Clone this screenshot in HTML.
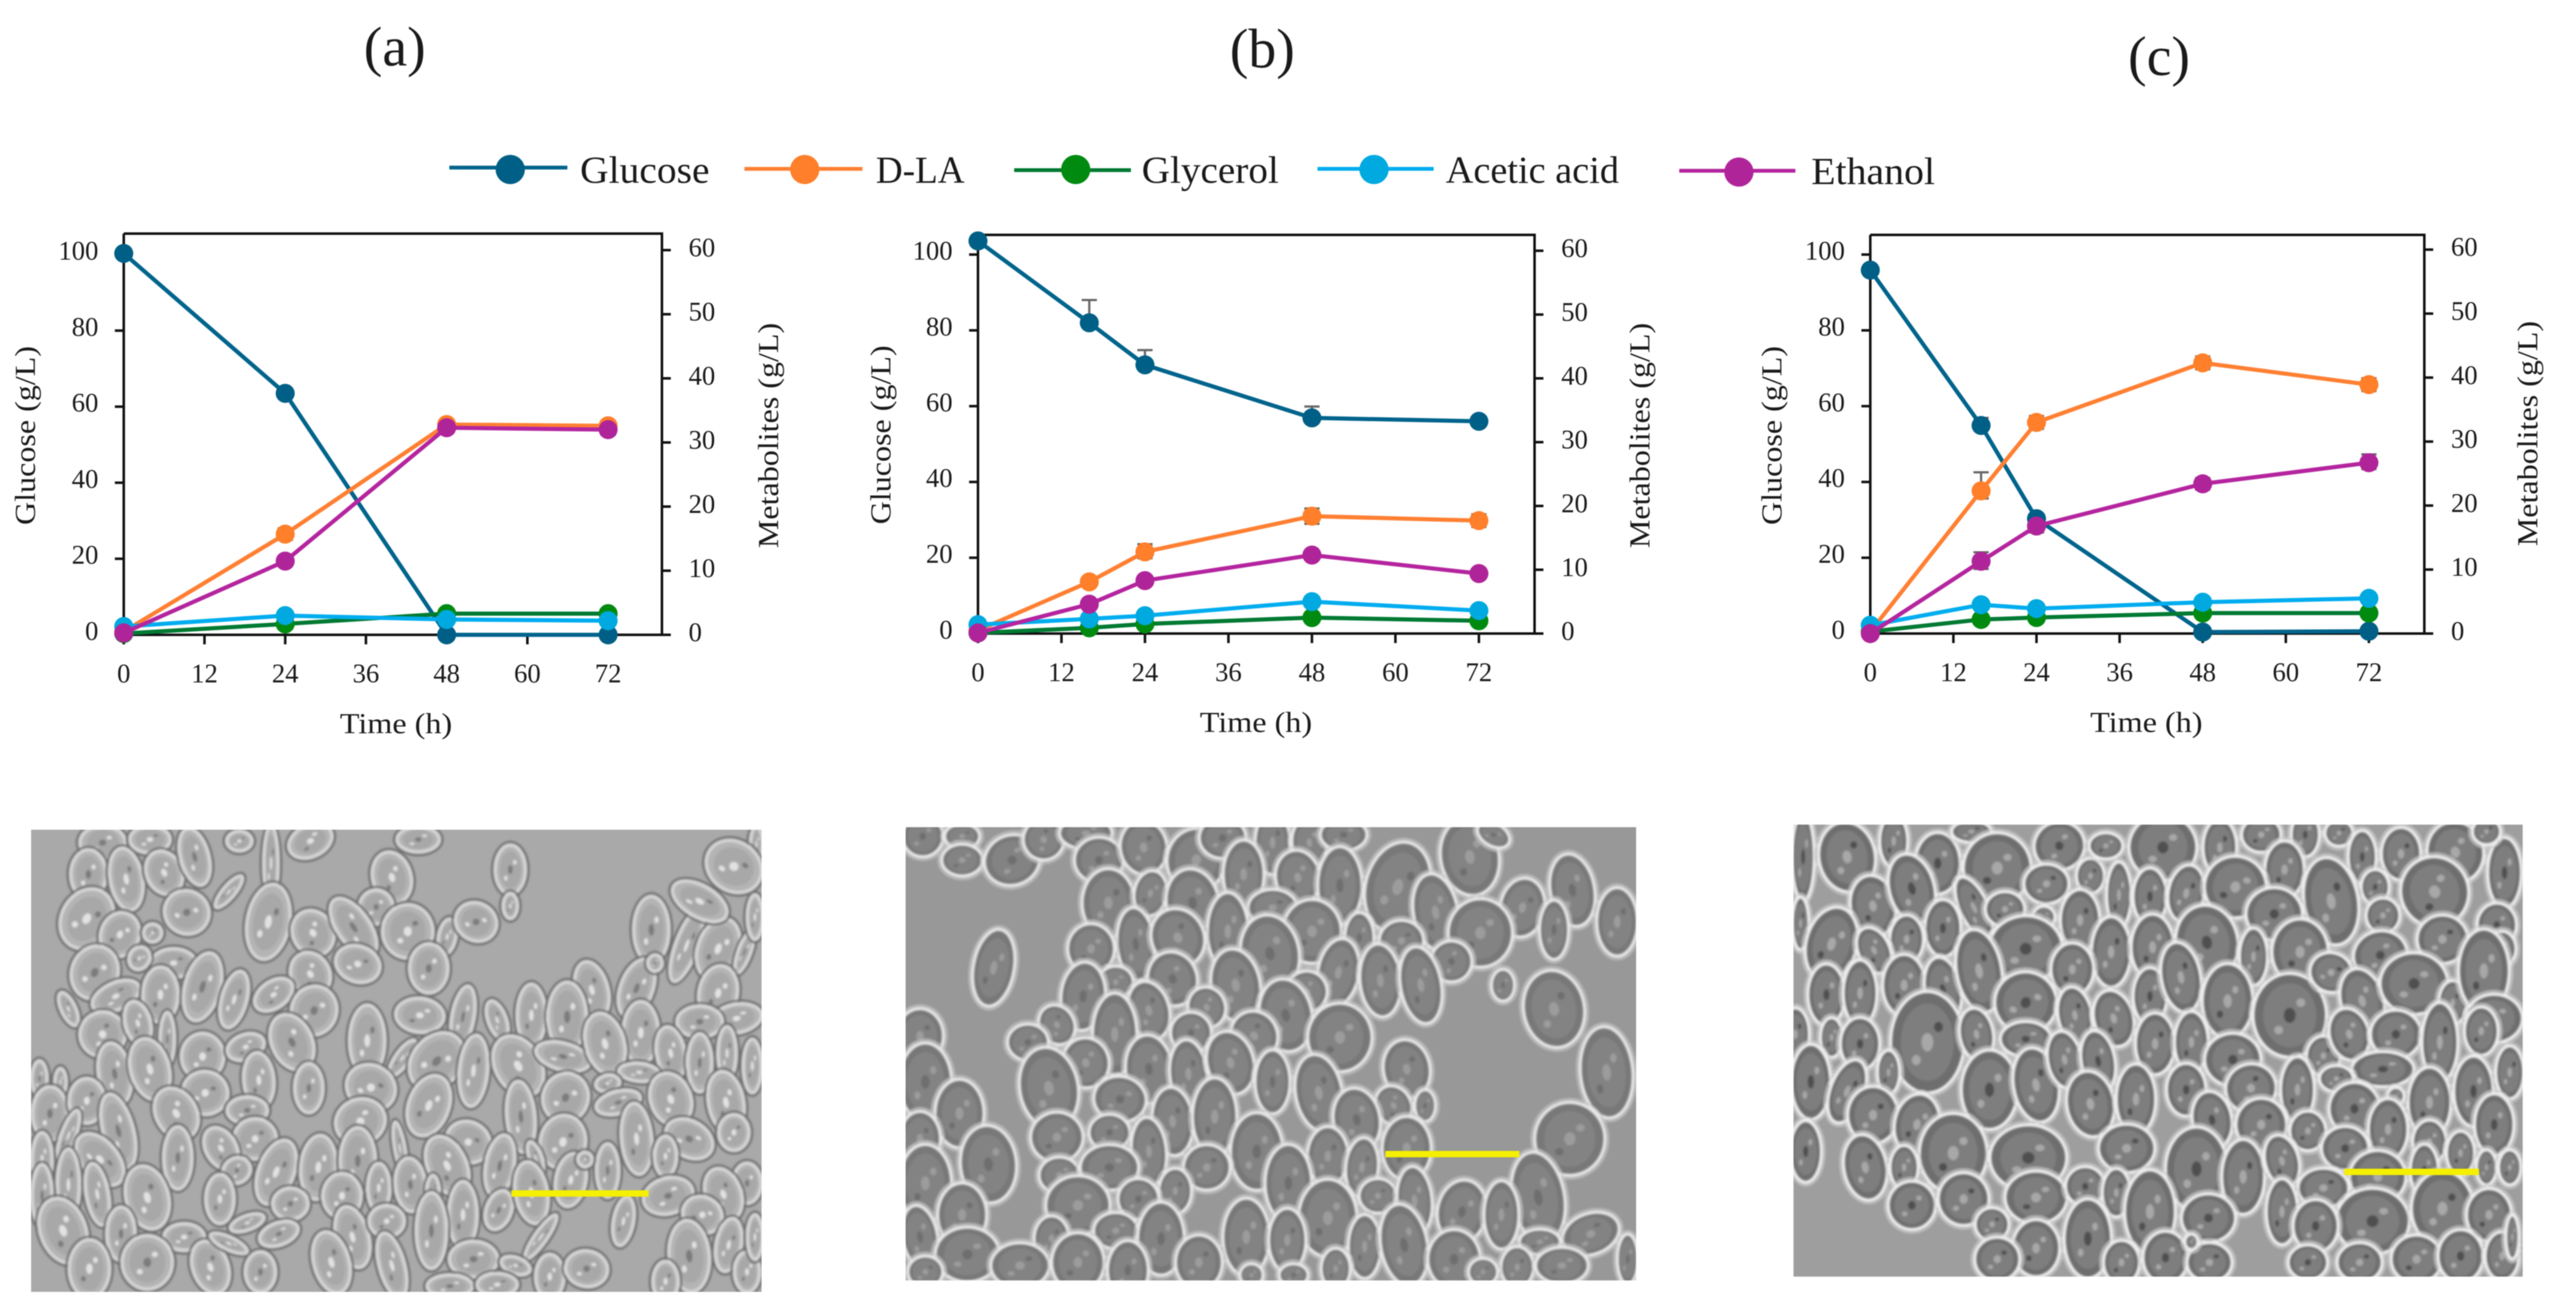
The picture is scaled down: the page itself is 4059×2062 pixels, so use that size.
<!DOCTYPE html>
<html lang="en">
<head>
<meta charset="utf-8">
<title>Fermentation profiles and micrographs</title>
<style>
html,body{margin:0;padding:0;background:#fff;}
svg{display:block;filter:blur(0.8px);}
text{font-family:"Liberation Serif","DejaVu Serif",serif;fill:#1a1a1a;}
</style>
</head>
<body>
<svg id="figure" xmlns="http://www.w3.org/2000/svg" width="4059" height="2062" viewBox="0 0 4059 2062">
  <rect x="0" y="0" width="4059" height="2062" fill="#ffffff"/>
  <text x="622" y="103" font-size="88" text-anchor="middle">(a)</text>
  <text x="1989" y="106" font-size="88" text-anchor="middle">(b)</text>
  <text x="3402" y="118" font-size="88" text-anchor="middle">(c)</text>

  <g>
    <g>
      <line x1="708" y1="264" x2="894" y2="264" stroke="#00648c" stroke-width="6"/>
      <circle cx="804" cy="267" r="23" fill="#005f86"/>
      <text x="914" y="288" font-size="60" textLength="204" lengthAdjust="spacingAndGlyphs">Glucose</text>
    </g>
    <g>
      <line x1="1173" y1="266" x2="1359" y2="266" stroke="#ff8033" stroke-width="6"/>
      <circle cx="1268" cy="267" r="23" fill="#ff7f2a"/>
      <text x="1380" y="288" font-size="60" textLength="140" lengthAdjust="spacingAndGlyphs">D-LA</text>
    </g>
    <g>
      <line x1="1598" y1="268" x2="1782" y2="268" stroke="#007a33" stroke-width="6"/>
      <circle cx="1695" cy="267" r="23" fill="#008a10"/>
      <text x="1799" y="288" font-size="60" textLength="216" lengthAdjust="spacingAndGlyphs">Glycerol</text>
    </g>
    <g>
      <line x1="2076" y1="266" x2="2259" y2="266" stroke="#00adef" stroke-width="6"/>
      <circle cx="2165" cy="267" r="23" fill="#00a9e0"/>
      <text x="2278" y="288" font-size="60" textLength="273" lengthAdjust="spacingAndGlyphs">Acetic acid</text>
    </g>
    <g>
      <line x1="2646" y1="269" x2="2829" y2="269" stroke="#b5259f" stroke-width="6"/>
      <circle cx="2740" cy="271" r="23" fill="#b0249a"/>
      <text x="2854" y="290" font-size="60" textLength="195" lengthAdjust="spacingAndGlyphs">Ethanol</text>
    </g>
  </g>

  <g id="chart-a"></g>
  <g id="chart-b"></g>
  <g id="chart-c"></g>

  <defs>
    <clipPath id="clip-a"><rect x="49" y="1307" width="1151" height="728"/></clipPath>
    <clipPath id="clip-b"><rect x="1427" y="1303" width="1151" height="714"/></clipPath>
    <clipPath id="clip-c"><rect x="2826" y="1299" width="1149" height="712"/></clipPath>
    <filter id="soften" x="-2%" y="-2%" width="104%" height="104%"><feGaussianBlur stdDeviation="1.6"/></filter>
  </defs>
  <g clip-path="url(#clip-a)">
    <rect x="49" y="1307" width="1151" height="728" fill="#a9a9a9"/>
    <g id="cells-a" filter="url(#soften)"></g>
  </g>
  <g clip-path="url(#clip-b)">
    <rect x="1427" y="1303" width="1151" height="714" fill="#989898"/>
    <g id="cells-b" filter="url(#soften)"></g>
  </g>
  <g clip-path="url(#clip-c)">
    <rect x="2826" y="1299" width="1149" height="712" fill="#9e9e9e"/>
    <g id="cells-c" filter="url(#soften)"></g>
  </g>
  <rect x="806" y="1875" width="216" height="10" fill="#f5ef00"/>
  <rect x="2183" y="1813" width="211" height="10" fill="#f5ef00"/>
  <rect x="3694" y="1841" width="212" height="10" fill="#f5ef00"/>
</svg>

<script>
// ----- tick labels -----
const xTickLabels = [0, 12, 24, 36, 48, 60, 72];
const glucoseTickLabels = [0, 20, 40, 60, 80, 100];
const metaboliteTickLabels = [0, 10, 20, 30, 40, 50, 60];
const xAxisMax = 80;

// ----- panel (a) -----
const timesA = [0, 24, 48, 72];
const glucoseA = [100.3, 63.5, 0, 0];
const dlaA = [0.5, 15.7, 32.8, 32.6];
const glycerolA = [0.2, 1.7, 3.3, 3.3];
const aceticA = [1.3, 3.0, 2.4, 2.2];
const ethanolA = [0.3, 11.5, 32.3, 32.0];
const errUpDlaA = [0, 0.9, 0.6, 0.6];
const errLowDlaA = [0, 0.9, 0.6, 0.6];
const errUpEthanolA = [0, 0.8, 0.8, 0.8];
const errLowEthanolA = [0, 0.8, 0.8, 0.8];
const errUpGlucoseA = [0, 0.8, 0, 0];
const errLowGlucoseA = [0, 0, 0, 0];

// ----- panel (b) -----
const timesB = [0, 16, 24, 48, 72];
const glucoseB = [103.6, 82, 70.9, 56.9, 56];
const dlaB = [0.5, 8.1, 12.8, 18.4, 17.7];
const glycerolB = [0.1, 0.9, 1.5, 2.5, 2.0];
const aceticB = [1.4, 2.3, 2.8, 5.0, 3.6];
const ethanolB = [0.1, 4.6, 8.3, 12.3, 9.4];
const errUpGlucoseB = [0, 6, 3.9, 3, 0.5];
const errLowGlucoseB = [0, 0, 0, 0, 0];
const errUpDlaB = [0, 0.5, 1.2, 1.2, 1.0];
const errLowDlaB = [0, 0.5, 1.0, 1.2, 1.0];
const errUpEthanolB = [0, 0.3, 0.5, 0.4, 0.4];
const errLowEthanolB = [0, 0.3, 0.5, 0.4, 0.4];

// ----- panel (c) -----
const timesC = [0, 16, 24, 48, 72];
const glucoseC = [95.9, 54.9, 30.3, 0.4, 0.6];
const dlaC = [0.3, 22.3, 33, 42.3, 38.9];
const glycerolC = [0.3, 2.2, 2.5, 3.2, 3.2];
const aceticC = [1.3, 4.5, 3.9, 4.9, 5.5];
const ethanolC = [0, 11.3, 16.8, 23.4, 26.7];
const errUpGlucoseC = [0, 2, 1, 0, 0];
const errLowGlucoseC = [0, 0, 0, 0, 0];
const errUpDlaC = [0, 2.9, 1, 1, 1];
const errLowDlaC = [0, 1.2, 1, 1, 1];
const errUpEthanolC = [0, 1.4, 1, 0.9, 1.3];
const errLowEthanolC = [0, 1.2, 1, 0.9, 1.0];

const noErrors = [0, 0, 0, 0, 0];

// ----- micrograph cell outlines (not chart data): x, y, rx, ry, angle -----
const cellsA = [[195,95,45,38,0],[285,85,40,30,0],[590,90,45,35,-25],[795,85,42,28,0],[455,90,25,22,0],[1438,100,12,40,0],
[168,195,35,55,0],[240,210,32,70,-10],[312,190,35,50,-25],[370,140,28,65,-15],[515,160,14,85,0],[745,205,38,58,-15],[970,180,30,55,0],[1395,170,58,55,35],
[435,250,12,45,40],[355,315,45,48,30],[165,335,50,70,30],[228,385,38,50,20],[715,298,33,38,0],[510,345,42,85,10],[595,380,40,52,-30],[672,362,32,75,-35],[775,375,50,60,0],[850,392,17,40,10],[905,345,42,42,30],[290,380,18,20,0],[970,295,14,28,0],[1238,370,35,75,0],[1305,420,22,85,20],[1365,430,40,70,20],[1415,440,12,50,20],[1330,280,60,35,30],[1435,330,15,50,0],
[180,505,46,60,20],[330,475,44,32,0],[265,460,20,26,30],[815,492,38,55,0],[680,478,45,40,20],[590,510,38,50,-30],[1210,555,32,68,20],[1125,560,32,65,-15],[1365,570,38,62,10],[1245,475,14,18,0],
[220,580,50,30,-25],[305,575,35,62,0],[385,550,35,78,15],[445,590,25,65,15],[520,575,42,30,-35],[597,625,45,55,15],[130,620,14,40,-25],[798,640,48,38,5],[880,645,22,70,10],[945,655,18,45,-20],[1010,640,28,70,0],[1078,645,38,78,0],[1218,695,35,70,0],[1400,650,50,32,-10],[1330,660,45,35,0],
[195,700,45,50,-20],[262,665,25,50,-15],[318,715,14,60,0],[385,770,42,52,0],[467,740,38,28,-20],[555,725,40,65,-25],[698,720,35,80,0],[765,775,14,48,35],[830,785,48,70,40],[900,815,28,80,5],[985,800,45,72,-30],[1070,770,55,30,15],[1150,730,38,70,-15],[1275,760,28,60,-10],[1330,790,24,65,0],[1382,760,18,60,0],[1430,800,18,60,0],
[218,825,32,70,-10],[285,810,38,70,-15],[115,850,11,30,0],[75,840,15,40,0],[390,885,45,48,15],[492,845,30,62,-5],[587,870,28,55,0],[705,868,50,50,30],[815,925,40,70,20],[1075,900,45,55,20],[1215,820,40,20,5],[1155,855,24,18,-10],[1175,915,45,25,-15],[1275,905,40,60,-20],[1380,915,35,70,-10],
[95,950,35,60,0],[165,910,35,50,0],[335,950,40,60,-30],[470,940,40,30,0],[485,1030,42,45,0],[685,975,50,50,-20],[990,960,28,80,-5],[1070,1040,45,60,10],[1210,1030,30,80,-5],[1310,1030,50,40,30],[1395,1010,30,40,0],[130,1020,14,60,20],[225,1005,30,85,-15],[890,1040,45,45,30],
[80,1095,20,60,0],[338,1090,28,70,0],[190,1095,60,40,50],[420,1060,30,50,-30],[450,1130,28,28,-30],[525,1135,35,75,20],[605,1120,35,72,5],[680,1100,35,75,0],[760,1060,10,60,-10],[850,1115,38,70,-25],[950,1115,28,70,10],[1018,1090,12,38,-20],[1085,1160,30,60,10],[1155,1130,22,60,0],[1112,1095,14,16,0],[1265,1085,22,45,0],[1420,1170,28,45,0],
[130,1175,22,80,0],[185,1205,22,70,-10],[80,1210,20,70,0],[280,1215,42,72,-15],[418,1220,28,55,0],[552,1235,35,35,0],[650,1210,38,50,0],[720,1185,22,55,0],[780,1175,30,60,-5],[823,1195,12,35,0],[880,1270,28,75,0],[948,1255,25,45,20],[1010,1200,32,70,-10],[1185,1290,20,55,10],[1270,1210,50,40,-15],[1375,1205,35,60,-20],
[120,1320,45,75,-20],[230,1330,28,60,0],[350,1340,40,30,0],[470,1295,35,16,-20],[530,1330,40,25,-20],[670,1340,32,70,-15],[735,1290,35,35,0],[820,1320,30,85,0],[1028,1340,12,60,35],[1335,1270,40,40,30],[1310,1400,40,80,-5],[1385,1365,25,60,10],[170,1440,40,65,0],[280,1420,50,60,0],[400,1435,35,60,-20],[435,1360,40,14,25],[495,1450,30,45,0],[630,1420,35,70,-15],[745,1430,25,75,-15],[900,1410,48,40,0],[980,1430,30,18,20],[1045,1465,28,50,0],[1115,1440,42,40,10],[1265,1480,25,45,0],[1420,1450,25,45,0],[855,1495,45,25,0],[945,1490,40,25,0],[1435,1340,15,50,0]];

const cellsB = [[65,75,35,45,0],[140,75,30,28,0],[140,150,35,35,0],[235,150,48,55,-20],[295,85,35,45,-30],[375,65,45,35,0],[400,150,42,50,0],[485,110,40,60,-10],[585,150,50,70,10],[635,80,40,45,0],[730,95,30,70,0],[800,95,30,55,-5],[865,70,40,35,0],[675,195,35,75,0],[778,205,38,60,-10],[858,230,38,85,0],[968,235,55,100,15],[1105,140,50,85,-10],[1150,70,30,25,30],
[418,285,45,75,0],[498,255,28,50,10],[578,285,45,75,-10],[730,300,42,40,0],[1040,315,38,85,-10],[1300,245,38,80,-10],[1205,300,38,65,10],[1125,380,55,75,0],[1265,370,25,65,0],[1385,345,35,75,0],[645,375,35,85,0],[470,415,32,80,-5],[550,395,45,65,-25],[805,375,50,70,0],[895,395,25,55,0],[975,405,38,45,0],[385,430,40,55,0],[725,445,50,85,-10],[855,505,35,75,10],[200,490,35,85,10],[1070,470,35,45,-25],[935,530,35,80,-5],[1012,545,35,85,-10],[1168,545,20,35,0],[1265,620,52,85,-10],
[432,535,30,35,0],[540,525,42,60,-20],[660,545,42,80,-10],[795,565,35,45,-20],[370,580,38,75,5],[495,625,35,65,-15],[605,615,32,45,-20],[755,640,45,80,-10],[320,670,30,45,-30],[430,700,38,90,0],[575,695,35,45,0],[695,705,40,55,-25],[858,710,55,75,0],[265,725,35,40,0],[60,705,40,60,0],[375,790,40,55,-10],[495,810,40,75,-5],[570,825,32,75,-5],[650,790,40,70,-15],[730,850,30,70,0],[985,810,40,65,-10],[1365,820,45,100,-5],[70,850,45,85,0],[305,870,50,90,-10],[135,950,42,75,0],[440,905,45,50,10],[818,885,40,85,-10],[960,925,30,45,-30],[1020,925,18,35,0],[540,975,35,75,-5],[620,960,38,85,0],[890,970,40,70,-10],[60,1030,35,60,0],[320,1025,45,55,0],[420,1010,35,40,0],[495,1070,30,75,-5],[1295,1030,60,80,0],[700,1070,45,85,0],[835,1085,35,65,0],[985,1060,42,70,0],[190,1110,48,85,-5],[900,1120,28,65,5],[325,1145,35,40,0],[420,1120,50,50,0],[605,1120,40,50,0],[70,1170,45,85,0],[760,1170,40,85,0],[930,1210,32,38,0],[1000,1225,30,75,-5],[1235,1215,45,100,-10],[545,1195,28,50,0],[360,1240,55,65,0],[475,1220,35,45,0],[140,1270,42,70,0],[835,1280,50,85,0],[1090,1260,42,70,10],[1165,1270,30,75,0],[680,1340,40,85,0],[60,1340,30,70,-10],[310,1345,30,50,0],[432,1320,38,40,0],[518,1345,40,80,0],[758,1350,32,70,0],[905,1370,28,70,0],[980,1365,40,90,-10],[1335,1330,50,45,-20],[1238,1355,35,28,0],[150,1395,55,60,0],[250,1430,50,50,0],[360,1420,45,65,0],[455,1445,35,65,0],[590,1420,40,60,0],[850,1440,25,45,0],[1075,1410,45,65,0],[1195,1435,28,45,0],[1280,1430,45,40,0],[1405,1410,18,55,0],[70,1450,30,35,0],[690,1460,20,25,0],[770,1460,25,25,0],[1130,1450,25,30,0]];

const cellsC = [[75,140,20,100,0],[160,140,50,80,-10],[250,90,25,60,0],[335,160,40,70,0],[400,60,35,25,0],[450,175,60,80,0],[570,105,45,55,-15],[630,200,25,40,0],[660,105,30,30,0],[770,110,60,75,0],[880,110,30,65,0],[960,70,35,40,0],[1045,70,25,50,0],[1110,65,25,30,0],[1005,180,35,65,0],[1155,140,25,60,0],[1230,130,35,60,0],[1335,125,50,70,-15],[1430,190,30,80,0],[1395,60,25,30,0],
[210,295,40,70,-10],[285,240,40,80,-15],[545,225,40,45,0],[685,260,22,75,0],[745,265,30,65,0],[815,255,32,65,10],[910,235,55,70,15],[1180,235,25,40,0],[1095,280,48,100,-10],[1295,250,60,80,-20],[985,320,50,60,0],[405,300,25,75,-25],[465,305,35,40,0],[540,330,20,25,0],[610,340,35,70,0],[1195,325,30,40,0],[1415,355,35,50,0],
[70,350,15,60,0],[130,415,45,85,15],[345,365,32,65,0],[275,400,30,55,0],[212,435,28,55,-25],[505,430,65,75,0],[670,440,35,80,0],[750,425,38,75,0],[855,410,55,85,-10],[945,455,25,65,0],[1035,440,50,75,0],[1190,450,48,55,-15],[1310,400,45,55,0],[1425,430,25,40,0],
[120,575,33,70,0],[185,570,30,75,0],[270,545,38,70,0],[345,560,32,75,-10],[415,500,40,95,-10],[595,495,38,60,0],[505,600,55,70,20],[600,640,30,65,-10],[675,650,35,65,-15],[745,580,30,65,0],[805,520,35,80,-10],[895,595,45,85,0],[1015,640,65,95,0],[1095,505,38,45,20],[1155,595,38,75,-15],[1255,540,60,70,0],[1330,600,25,50,0],[1390,500,45,95,0],[1410,650,50,55,0],[60,700,25,60,0],[130,710,20,45,0],[185,730,35,60,0],[315,725,65,115,0],[410,700,30,60,-10],[505,715,45,40,0],[755,730,35,70,0],[825,725,30,70,0],[905,780,50,60,0],[1080,768,30,45,0],[1130,700,35,60,-15],[1220,700,45,55,0],[1305,725,32,90,0],[1385,690,30,55,0],
[90,850,35,85,0],[160,880,30,75,20],[240,820,20,50,0],[435,875,50,90,0],[525,860,40,85,-10],[580,780,30,65,-10],[645,785,30,70,-10],[630,920,42,75,-10],[718,905,35,80,0],[815,875,35,60,0],[940,870,45,55,-20],[1030,875,30,75,0],[1195,810,55,40,0],[1105,840,30,30,0],[1285,915,38,80,0],[1370,880,35,80,0],[1440,820,25,60,0],[1220,895,15,20,0],
[80,1070,28,70,0],[210,955,45,65,0],[295,985,40,70,10],[865,970,35,65,-10],[960,985,45,60,0],[1050,1005,32,45,0],[1140,935,45,60,0],[1205,1000,35,70,0],[1285,1040,30,50,0],[1410,985,35,70,0],
[195,1120,38,75,-10],[365,1075,60,90,0],[510,1090,68,75,0],[700,1060,50,55,0],[270,1120,25,50,0],[835,1125,55,95,0],[925,1150,38,85,0],[1000,1100,30,60,-15],[1122,1060,42,50,0],[1185,1150,50,60,0],[1345,1075,25,50,0],[1275,1130,25,60,0],[1395,1120,18,40,0],[1440,1120,20,40,0],
[285,1240,42,55,0],[385,1220,45,60,0],[525,1215,55,60,0],[620,1180,35,45,0],[680,1200,25,55,0],[745,1260,45,95,0],[858,1280,48,55,0],[1080,1185,45,45,0],[1000,1260,28,75,0],[1175,1290,65,75,0],[1310,1250,55,85,0],[1400,1270,40,60,0],[1065,1305,40,60,0],
[440,1300,30,38,0],[525,1375,42,65,0],[625,1345,42,90,0],[450,1410,40,50,0],[690,1420,32,50,0],[775,1405,40,60,0],[860,1420,40,45,0],[825,1355,12,18,0],[1050,1420,35,40,0],[1150,1420,40,45,0],[1260,1410,45,55,0],[1345,1400,40,60,0],[1425,1400,30,55,0],[1445,1340,12,50,0]];

const NS = 'http://www.w3.org/2000/svg';
const lineColors = {glucose:'#00648c', dla:'#ff8033', glycerol:'#007a33', acetic:'#00adef', ethanol:'#b5259f'};
const markerColors = {glucose:'#005f86', dla:'#ff7f2a', glycerol:'#008a10', acetic:'#00a9e0', ethanol:'#b0249a'};

function mk(parent, tag, attrs, txt) {
  const el = document.createElementNS(NS, tag);
  for (const k in attrs) el.setAttribute(k, attrs[k]);
  if (txt !== undefined) el.textContent = txt;
  parent.appendChild(el);
  return el;
}

function drawChart(id, box, times, seriesList) {
  const root = document.getElementById(id);
  const x = function (t) { return box.left + (box.right - box.left) * t / xAxisMax; };
  const yL = function (v) { return box.bottom - v * box.leftPer20 / 20; };
  const yR = function (v) { return box.bottom - v * box.rightPer10 / 10; };
  const axisStyle = {stroke:'#111', 'stroke-width':4, fill:'none'};

  const frame = mk(root, 'path', Object.assign({d:'M' + box.left + ' ' + box.top + 'H' + box.right + 'V' + box.bottom + 'M' + box.left + ' ' + box.top + 'V' + box.bottom + 'H' + (box.right + 14)}, axisStyle));
  
  

  xTickLabels.forEach(function (v) {
    const tick = mk(root, 'line', Object.assign({x1:x(v), x2:x(v), y1:box.bottom, y2:box.bottom + 15}, axisStyle));
    
    
    const label = mk(root, 'text', {x:x(v), y:box.bottom + 75, 'font-size':42, 'text-anchor':'middle'}, String(v));
    
    
  });
  glucoseTickLabels.forEach(function (v) {
    const tick = mk(root, 'line', Object.assign({x1:box.left - 14, x2:box.left, y1:yL(v), y2:yL(v)}, axisStyle));
    
    
    const label = mk(root, 'text', {x:box.left - 40, y:yL(v) + 8, 'font-size':42, 'text-anchor':'end'}, String(v));
    
    
  });
  metaboliteTickLabels.forEach(function (v) {
    const tick = mk(root, 'line', Object.assign({x1:box.right, x2:box.right + 14, y1:yR(v), y2:yR(v)}, axisStyle));
    
    
    const label = mk(root, 'text', {x:box.right + 42, y:yR(v) + 10, 'font-size':42}, String(v));
    
    
  });

  const xt = mk(root, 'text', {x:box.timeX, y:box.bottom + 155, 'font-size':46, 'text-anchor':'middle', textLength:177, lengthAdjust:'spacingAndGlyphs'}, 'Time (h)');
  
  
  const yt1 = mk(root, 'text', {transform:'translate(' + box.glucoseX + ',' + box.glucoseY + ') rotate(-90)', 'font-size':46, 'text-anchor':'middle', textLength:282, lengthAdjust:'spacingAndGlyphs'}, 'Glucose (g/L)');
  
  
  const yt2 = mk(root, 'text', {transform:'translate(' + box.metaX + ',' + box.metaY + ') rotate(-90)', 'font-size':46, 'text-anchor':'middle', textLength:355, lengthAdjust:'spacingAndGlyphs'}, 'Metabolites (g/L)');
  
  

  seriesList.forEach(function (s) {
    const y = s.axis === 'left' ? yL : yR;
    s.errUp.forEach(function (e, i) {
      if (i >= times.length) return;
      const lo = s.errLow[i];
      if (!e && !lo) return;
      const cx = x(times[i]);
      const top = y(s.values[i] + e);
      const bot = y(s.values[i] - lo);
      let d = 'M' + cx + ' ' + top + 'V' + bot + 'M' + (cx - 12) + ' ' + top + 'h24';
      if (lo) d += 'M' + (cx - 12) + ' ' + bot + 'h24';
      const bar = mk(root, 'path', {d:d, stroke:'#666', 'stroke-width':3.5, fill:'none'});
      
      
    });
  });
  seriesList.forEach(function (s) {
    const y = s.axis === 'left' ? yL : yR;
    const pts = s.values.map(function (v, i) { return x(times[i]) + ',' + y(v); }).join(' ');
    const line = mk(root, 'polyline', {points:pts, fill:'none', stroke:lineColors[s.key], 'stroke-width':6.5, 'stroke-linejoin':'round'});
    
    
    s.values.forEach(function (v, i) {
      const pt = mk(root, 'circle', {cx:x(times[i]), cy:y(v), r:15, fill:markerColors[s.key]});
      
      
    });
  });
}

function series(key, axis, values, errUp, errLow) { return {key:key, axis:axis, values:values, errUp:errUp, errLow:errLow}; }

drawChart('chart-a',
  {left:195, right:1043, top:368, bottom:1000, leftPer20:119.8, rightPer10:101, timeX:624, glucoseX:55, glucoseY:686, metaX:1226, metaY:686},
  timesA,
  [series('glucose','left',glucoseA,errUpGlucoseA,errLowGlucoseA), series('dla','right',dlaA,errUpDlaA,errLowDlaA), series('glycerol','right',glycerolA,noErrors,noErrors), series('acetic','right',aceticA,noErrors,noErrors), series('ethanol','right',ethanolA,errUpEthanolA,errLowEthanolA)]);
drawChart('chart-b',
  {left:1541, right:2418, top:370, bottom:998, leftPer20:119.4, rightPer10:100.5, timeX:1979, glucoseX:1403, glucoseY:685, metaX:2599, metaY:686},
  timesB,
  [series('glucose','left',glucoseB,errUpGlucoseB,errLowGlucoseB), series('dla','right',dlaB,errUpDlaB,errLowDlaB), series('glycerol','right',glycerolB,noErrors,noErrors), series('acetic','right',aceticB,noErrors,noErrors), series('ethanol','right',ethanolB,errUpEthanolB,errLowEthanolB)]);
drawChart('chart-c',
  {left:2947, right:3820, top:370, bottom:998, leftPer20:119.4, rightPer10:100.8, timeX:3382, glucoseX:2807, glucoseY:686, metaX:3998, metaY:683},
  timesC,
  [series('glucose','left',glucoseC,errUpGlucoseC,errLowGlucoseC), series('dla','right',dlaC,errUpDlaC,errLowDlaC), series('glycerol','right',glycerolC,noErrors,noErrors), series('acetic','right',aceticC,noErrors,noErrors), series('ethanol','right',ethanolC,errUpEthanolC,errLowEthanolC)]);

function drawCells(id, cells, style) {
  const g = document.getElementById(id);
  cells.forEach(function (c, n) {
    const cx = style.ox + c[0] * style.sx;
    const cy = style.oy + c[1] * style.sy;
    const rx = c[2] * style.sx * style.kx;
    const ry = c[3] * style.sy * style.ky;
    const t = 'rotate(' + c[4] + ' ' + cx + ' ' + cy + ')';
    const halo = mk(g, 'ellipse', {cx:cx, cy:cy, rx:rx + style.wallW, ry:ry + style.wallW, transform:t, fill:'none', stroke:style.halo, 'stroke-width':style.haloW});
    
    
    const wall = mk(g, 'ellipse', {cx:cx, cy:cy, rx:rx, ry:ry, transform:t, fill:style.fill, stroke:style.wall, 'stroke-width':style.wallW});
    
    
    const core = mk(g, 'ellipse', {cx:cx, cy:cy, rx:rx * 0.72, ry:ry * 0.76, transform:t, fill:style.core});
    
    
    [[0, 0], [-0.3, 0.35], [0.3, -0.3]].forEach(function (o, j) {
      const dotEl = mk(g, 'ellipse', {cx:cx + o[0] * rx, cy:cy + o[1] * ry, rx:rx * (j ? 0.12 : 0.16), ry:ry * (j ? 0.1 : 0.18), transform:t, fill:(n + j) % 3 === 0 ? style.darkDot : style.dot});
      
      
    });
  });
}
drawCells('cells-a', cellsA, {ox:0, oy:1280, sx:0.829, sy:0.499, kx:0.95, ky:1.4, halo:'#6e6e6e', haloW:3.5, wall:'#d6d6d6', wallW:5, fill:'#b4b4b4', core:'#a8a8a8', dot:'#e2e2e2', darkDot:'#7c7c7c'});
drawCells('cells-b', cellsB, {ox:1400, oy:1280, sx:0.829, sy:0.499, kx:1.12, ky:1.45, halo:'#c8c8c8', haloW:2, wall:'#e8e8e8', wallW:5, fill:'#787878', core:'#838383', dot:'#9c9c9c', darkDot:'#6e6e6e'});
drawCells('cells-c', cellsC, {ox:2780, oy:1280, sx:0.8157, sy:0.499, kx:1.1, ky:1.4, halo:'#cccccc', haloW:2, wall:'#eeeeee', wallW:5, fill:'#6e6e6e', core:'#7e7e7e', dot:'#a8a8a8', darkDot:'#4f4f4f'});
</script>
</body>
</html>
